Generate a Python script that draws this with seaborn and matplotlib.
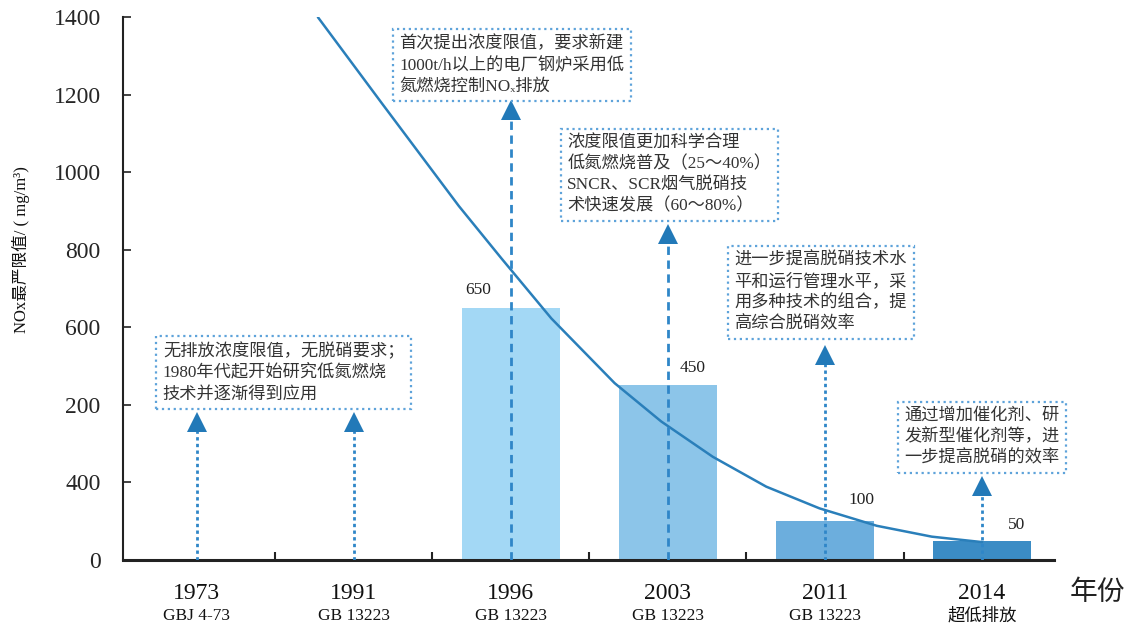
"""
NOx 排放限值演变图 (1973-2014)
柱状图 + 趋势曲线 + 文字注释框
"""

import pandas as pd
import seaborn as sns
import matplotlib.pyplot as plt
from matplotlib.transforms import blended_transform_factory

# --- estilo general ---
sns.set_theme(style="white")
plt.rcParams["font.family"] = ["Liberation Serif", "Noto Sans CJK SC", "DejaVu Sans"]

# --- datos ---
years = ["1973", "1991", "1996", "2003", "2011", "2014"]
standards = ["GBJ 4-73", "GB 13223", "GB 13223", "GB 13223", "GB 13223", "超低排放"]
limits = [0, 0, 650, 450, 100, 50]
bar_labels = ["", "", "650", "450", "100", "50"]
bar_colors = ["#a3d8f5", "#a3d8f5", "#a3d8f5", "#8cc5e9", "#6caedd", "#3b8cc5"]

ytick_vals = [0, 200, 400, 600, 800, 1000, 1200, 1400]
ytick_labels = ["0", "400", "200", "600", "800", "1000", "1200", "1400"]

# curva de tendencia (x en posiciones de categoría)
curve_x = [0.772, 1.179, 1.669, 1.940, 2.258, 2.661, 2.958, 3.286, 3.626, 3.965, 4.33, 4.68, 5.0]
curve_y = [1400, 1178, 913, 778, 623, 456, 357, 266, 189, 133, 88, 60, 46]

# flechas: fin de la línea discontinua y centro del triángulo
arrow_base = [335, 335, 1140, 817, 505, 168]
arrow_head = [357, 357, 1160, 840, 528, 190]
arrow_dash = [(0, (1.2, 1.2)), (0, (1.2, 1.2)), (0, (3, 2)), (0, (3, 2)), (0, (1.2, 1.2)), (0, (1.2, 1.2))]

notes = [
    "无排放浓度限值，无脱硝要求；\n1980年代起开始研究低氮燃烧\n技术并逐渐得到应用",
    "首次提出浓度限值，要求新建\n1000t/h以上的电厂钢炉采用低\n氮燃烧控制NOₓ排放",
    "浓度限值更加科学合理\n低氮燃烧普及（25～40%）\nSNCR、SCR烟气脱硝技\n术快速发展（60～80%）",
    "进一步提高脱硝技术水\n平和运行管理水平，采\n用多种技术的组合，提\n高综合脱硝效率",
    "通过增加催化剂、研\n发新型催化剂等，进\n一步提高脱硝的效率",
]
note_pos = [(-0.215, 483), (1.29, 1276), (2.36, 993), (3.424, 690), (4.506, 316)]
bar_label_pos = [None, None, (1.79, 696), (3.16, 495), (4.23, 155), (5.22, 90)]

df = pd.DataFrame({"year": years, "limit": limits})
curve = pd.DataFrame({"x": curve_x, "y": curve_y})

# --- figura ---
fig = plt.figure(figsize=(11.28, 6.37), dpi=100)
ax = fig.add_axes([0.109, 0.121, 0.825, 0.852])

sns.barplot(data=df, x="year", y="limit", hue="year", palette=bar_colors,
            order=years, width=0.62, linewidth=0, saturation=1,
            legend=False, ax=ax, zorder=1)

sns.lineplot(data=curve, x="x", y="y", sort=False, estimator=None,
             color="#2a7fba", linewidth=1.8, ax=ax, zorder=3)

line_color = "#2f86c8"
for i in range(len(years)):
    ax.plot([i, i], [0, arrow_base[i]], color=line_color, lw=2,
            linestyle=arrow_dash[i], zorder=4)
    ax.plot(i, arrow_head[i], marker="^", markersize=14, color="#2279b8",
            markeredgewidth=0, zorder=5)
    if bar_label_pos[i] is not None:
        bx, by = bar_label_pos[i]
        ax.text(bx, by, bar_labels[i], ha="center", va="center",
                fontsize=12.5, color="#222222", zorder=6)

for txt, (nx, ny) in zip(notes, note_pos):
    ax.text(nx, ny, txt, ha="left", va="center", fontsize=12.4,
            linespacing=1.38, color="#333333", zorder=7,
            bbox=dict(boxstyle="square,pad=0.38", fc="white", ec="#5ea3da",
                      ls=":", lw=1.6))

# --- ejes ---
ax.set_xlim(-0.469, 5.455)
ax.set_ylim(0, 1400)
ax.set_xticks([0.5, 1.5, 2.5, 3.5, 4.5])
ax.set_xticklabels([])
ax.set_yticks(ytick_vals)
ax.set_yticklabels(ytick_labels)
ax.tick_params(axis="x", direction="in", length=6, width=1.5, color="#222222", bottom=True)
ax.tick_params(axis="y", direction="in", length=6, width=1.2, color="#222222",
               labelsize=17, pad=16, left=True)
ax.set_xlabel("")
ax.set_ylabel("")
for side in ["top", "right"]:
    ax.spines[side].set_visible(False)
ax.spines["left"].set_linewidth(1.5)
ax.spines["left"].set_color("#222222")
ax.spines["bottom"].set_linewidth(2.2)
ax.spines["bottom"].set_color("#222222")

trans = blended_transform_factory(ax.transData, ax.transAxes)
for i, (yr, std) in enumerate(zip(years, standards)):
    ax.text(i, -0.061, yr, transform=trans, ha="center", va="center",
            fontsize=17, color="#111111")
    ax.text(i, -0.103, std, transform=trans, ha="center", va="center",
            fontsize=12.5, color="#111111")

fig.text(1097 / 1128, 1 - 592 / 637, "年份", ha="center", va="center",
         fontsize=20, family=["Noto Sans CJK SC"], color="#222222")
fig.text(21 / 1128, 1 - 250 / 637, "NOx最严限值/ ( mg/m³)",
         rotation=90, ha="center", va="center", fontsize=12, color="#111111")

fig.savefig("out.png", dpi=100)
